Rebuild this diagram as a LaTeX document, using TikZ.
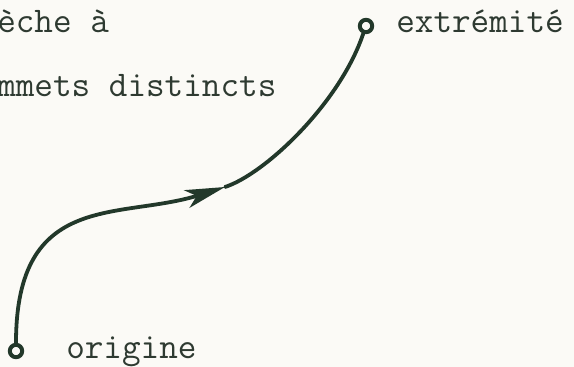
\documentclass[tikz,border=0pt]{standalone}
\usepackage{xcolor}
\usetikzlibrary{arrows.meta,positioning}
\definecolor{encre}{HTML}{22382A}
\definecolor{texte}{HTML}{2E3A31}
\definecolor{papier}{HTML}{FBFAF6}

\begin{document}
\begin{tikzpicture}[
    x=0.25mm, y=-0.25mm,
    sommet/.style={circle, draw=encre, line width=1mm, minimum size=3.1mm, inner sep=0pt},
    etiquette/.style={anchor=base west, inner sep=0pt, text=texte, font=\ttfamily\fontsize{25.7}{30}\selectfont},
    arc/.style={draw=encre, line width=0.95mm, line cap=round},
    fleche/.style={-{Stealth[length=10mm, width=4.6mm, inset=2.6mm]}}
]
    \useasboundingbox[fill=papier] (0,0) rectangle (574,367);

    \node[etiquette] (ligne1) at (-3,33) {èche à};
    \node[etiquette] (ligne2) at (-3,97) {mmets distincts};

    \node[sommet] (origine) at (16,351) {};
    \node[sommet] (extremite) at (366,26) {};
    \node[etiquette] (nomorigine) at (66,358) {origine};
    \node[etiquette] (nomextremite) at (396,33) {extrémité};

    \coordinate (pointe) at (225,187);
    \draw[arc, fleche] (origine.north) .. controls (16,190) and (120,220) .. (pointe);
    \draw[arc] (pointe) .. controls (265,174) and (340,103) .. (extremite.-110);
\end{tikzpicture}
\end{document}
